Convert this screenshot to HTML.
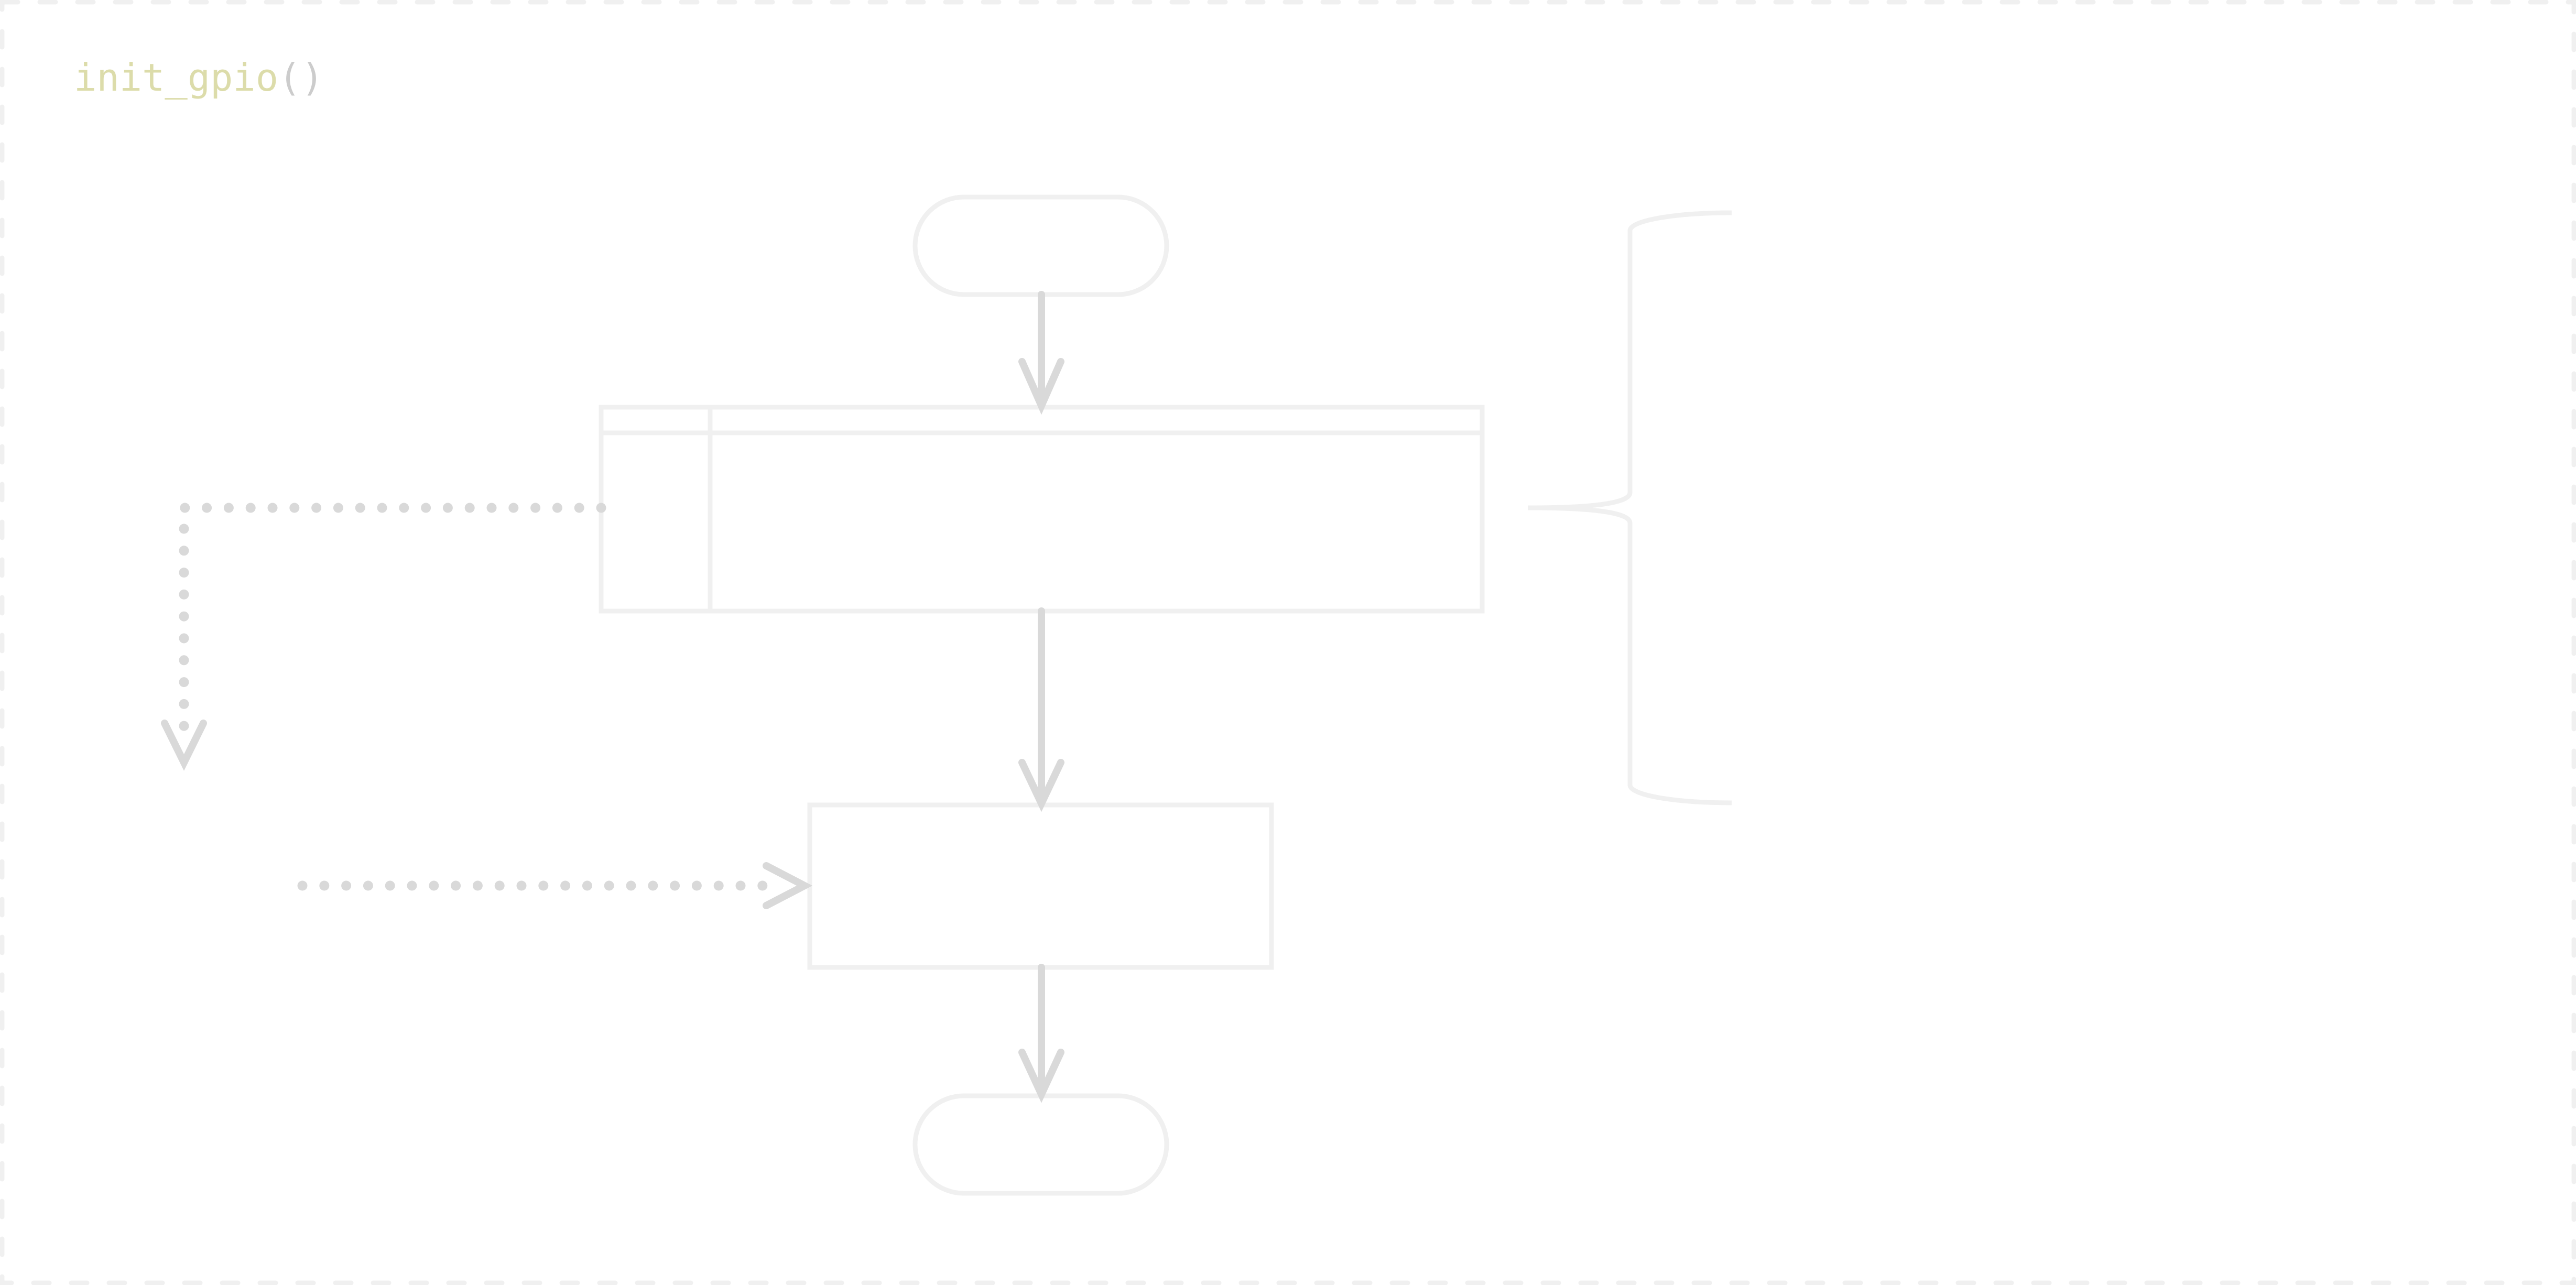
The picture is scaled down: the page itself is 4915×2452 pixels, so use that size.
<!DOCTYPE html>
<html><head><meta charset="utf-8"><style>
html,body{margin:0;padding:0;background:#fff;}
svg{display:block;}
</style></head><body>
<svg width="4915" height="2452" viewBox="0 0 4915 2452" xmlns="http://www.w3.org/2000/svg">
<rect x="4" y="4" width="4907" height="2444" fill="none" stroke="#f0f0f0" stroke-width="9" stroke-dasharray="30 42" stroke-linecap="round"/>
<text x="141" y="173" font-family="DejaVu Sans Mono, Liberation Mono, monospace" font-size="72" fill="#dcdcaa">init_gpio<tspan fill="#cccccc">()</tspan></text>
<g fill="none" stroke="#f0f0f0" stroke-width="9">
<rect x="1746" y="376" width="480" height="186" rx="93"/>
<rect x="1147" y="777" width="1681" height="389"/>
<line x1="1147" y1="826" x2="2828" y2="826"/>
<line x1="1355" y1="777" x2="1355" y2="1166"/>
<rect x="1545" y="1536" width="881" height="310"/>
<rect x="1746" y="2091" width="480" height="186" rx="93"/>
<path d="M3304 406 C3200 406 3110 420 3110 440 L3110 940 C3110 960 3040 969 2915 969 C3040 969 3110 978 3110 998 L3110 1498 C3110 1518 3200 1532 3304 1532"/>
</g>
<g fill="none" stroke="#d9d9d9" stroke-width="14" stroke-linecap="round" stroke-linejoin="miter">
<line x1="1987" y1="562" x2="1987" y2="770"/>
<polyline points="1950,690 1987,774 2024,690"/>
<line x1="1987" y1="1166" x2="1987" y2="1530"/>
<polyline points="1950,1455 1987,1533 2024,1455"/>
<line x1="1987" y1="1846" x2="1987" y2="2085"/>
<polyline points="1950,2008 1987,2088 2024,2008"/>
</g>
<g fill="none" stroke="#d9d9d9" stroke-width="19" stroke-linecap="round">
<path d="M1147 969 L351 969 L351 1389" stroke-dasharray="0 41.8"/>
<path d="M577 1690 L1470 1690" stroke-dasharray="0 41.8"/>
</g>
<g fill="none" stroke="#d9d9d9" stroke-width="14" stroke-linecap="round">
<polyline points="314,1380 351,1455 388,1380"/>
<polyline points="1462,1652 1535,1690 1462,1728"/>
</g>
</svg>
</body></html>
